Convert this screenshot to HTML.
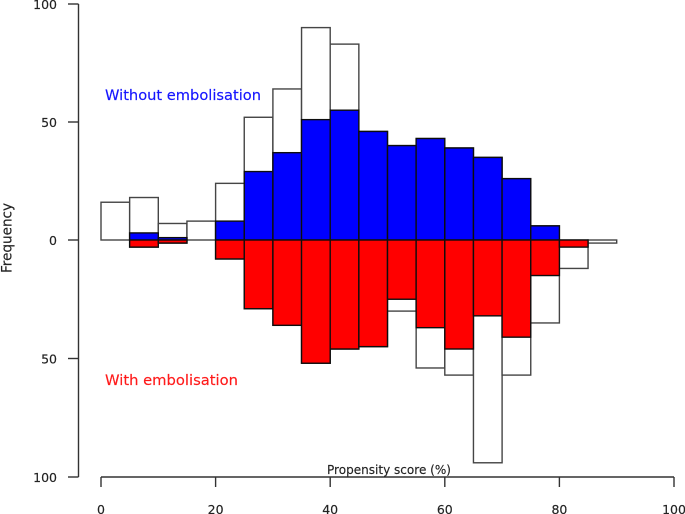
<!DOCTYPE html>
<html lang="en">
<head>
<meta charset="utf-8">
<title>Propensity score histogram</title>
<style>
html,body{margin:0;padding:0;background:#fff;width:685px;height:514px;overflow:hidden}
svg{display:block}
text{font-family:"DejaVu Sans","Liberation Sans",sans-serif;fill:#222;stroke:#222;stroke-width:0.15}
</style>
</head>
<body>
<svg id="chart" xmlns="http://www.w3.org/2000/svg" width="685" height="514" viewBox="0 0 685 514">
<defs><filter id="soft" x="-5%" y="-5%" width="110%" height="110%"><feGaussianBlur stdDeviation="0.3"/></filter></defs>
<g id="root" filter="url(#soft)"></g>
</svg>
<script>
const binStarts = [0,5,10,15,20,25,30,35,40,45,50,55,60,65,70,75,80,85];
const binWidth = 5;
const totalWithout = [16,18,7,8,24,52,64,90,83,46,40,43,39,35,26,6,0,0];
const matchedWithout = [0,3,1,0,8,29,37,51,55,46,40,43,39,35,26,6,0,0];
const totalWith = [0,3,1.3,0,8,29,36,52,46,45,30,54,57,94,57,35,12,1.3];
const matchedWith = [0,3,1.3,0,8,29,36,52,46,45,25,37,46,32,41,15,3,0];
const xTicks = [0,20,40,60,80,100];
const yTicks = [100,50,0,50,100];
const ySigns = [1,1,0,-1,-1];

const NS = 'http://www.w3.org/2000/svg';
const root = document.getElementById('root');
const xScale = v => 101 + v * 5.73;
const yUp = v => 240 - v * 2.36;
const yDown = v => 240 + v * 2.37;

function make(tag, attrs, parent, content) {
  const el = document.createElementNS(NS, tag);
  for (const k in attrs) el.setAttribute(k, attrs[k]);
  if (content !== undefined) el.textContent = content;
  parent.appendChild(el);
  return el;
}

function bar(i, value, scale, fill, stroke, name) {
  if (value <= 0) return;
  const x0 = xScale(binStarts[i]);
  const x1 = xScale(binStarts[i] + binWidth);
  const ya = scale(0);
  const yb = scale(value);
  const el = make('rect', {
    x: x0, y: Math.min(ya, yb), width: x1 - x0, height: Math.abs(yb - ya),
    fill: fill, stroke: stroke, 'stroke-width': 1.4
  }, root);
  
  
}

binStarts.forEach((_, i) => {
  bar(i, totalWithout[i], yUp, '#fff', '#444', 'bar-without-total');
  bar(i, totalWith[i], yDown, '#fff', '#444', 'bar-with-total');
});
binStarts.forEach((_, i) => {
  bar(i, matchedWithout[i], yUp, '#0000ff', '#111', 'bar-without-matched');
  bar(i, matchedWith[i], yDown, '#ff0000', '#111', 'bar-with-matched');
});

const axisStyle = {stroke: '#333', 'stroke-width': 1.4, fill: 'none'};

const yAxis = make('g', {}, root);


make('line', {x1: 78.5, x2: 78.5, y1: yUp(100), y2: yDown(100), ...axisStyle}, yAxis);
yTicks.forEach((t, i) => {
  const y = ySigns[i] >= 0 ? yUp(t) : yDown(t);
  make('line', {x1: 68, x2: 78.5, y1: y, y2: y, ...axisStyle}, yAxis);
  const label = make('text', {x: 57, y: y + 5, 'text-anchor': 'end', 'font-size': 12.5}, yAxis, String(t));
  
  
});

const xAxis = make('g', {}, root);


const axisY = yDown(100);
make('line', {x1: xScale(0), x2: xScale(100), y1: axisY, y2: axisY, ...axisStyle}, xAxis);
xTicks.forEach(t => {
  const x = xScale(t);
  make('line', {x1: x, x2: x, y1: axisY, y2: axisY + 10, ...axisStyle}, xAxis);
  const label = make('text', {x: x, y: 514, 'text-anchor': 'middle', 'font-size': 12.5}, xAxis, String(t));
  
  
});
</script>
<script>
(function () {
  const g = document.getElementById('root');
  const ns = 'http://www.w3.org/2000/svg';
  function label(txt, attrs) {
    const el = document.createElementNS(ns, 'text');
    for (const k in attrs) el.setAttribute(k, attrs[k]);
    el.textContent = txt;
    g.appendChild(el);
    return el;
  }
  const a = label('Without embolisation', {x: 105, y: 100, 'font-size': 14, textLength: 156, lengthAdjust: 'spacingAndGlyphs', style: 'fill:#1414ff;stroke:#1414ff'});
  
  
  const b = label('With embolisation', {x: 105, y: 385, 'font-size': 14, textLength: 133, lengthAdjust: 'spacingAndGlyphs', style: 'fill:#ff1a1a;stroke:#ff1a1a'});
  
  
  const c = label('Propensity score (%)', {x: 327, y: 474, 'font-size': 12, textLength: 124, lengthAdjust: 'spacingAndGlyphs'});
  
  
  const d = label('Frequency', {transform: 'translate(11.5,273) rotate(-90)', 'font-size': 14, textLength: 70, lengthAdjust: 'spacingAndGlyphs'});
  
  
})();
</script>
</body>
</html>
